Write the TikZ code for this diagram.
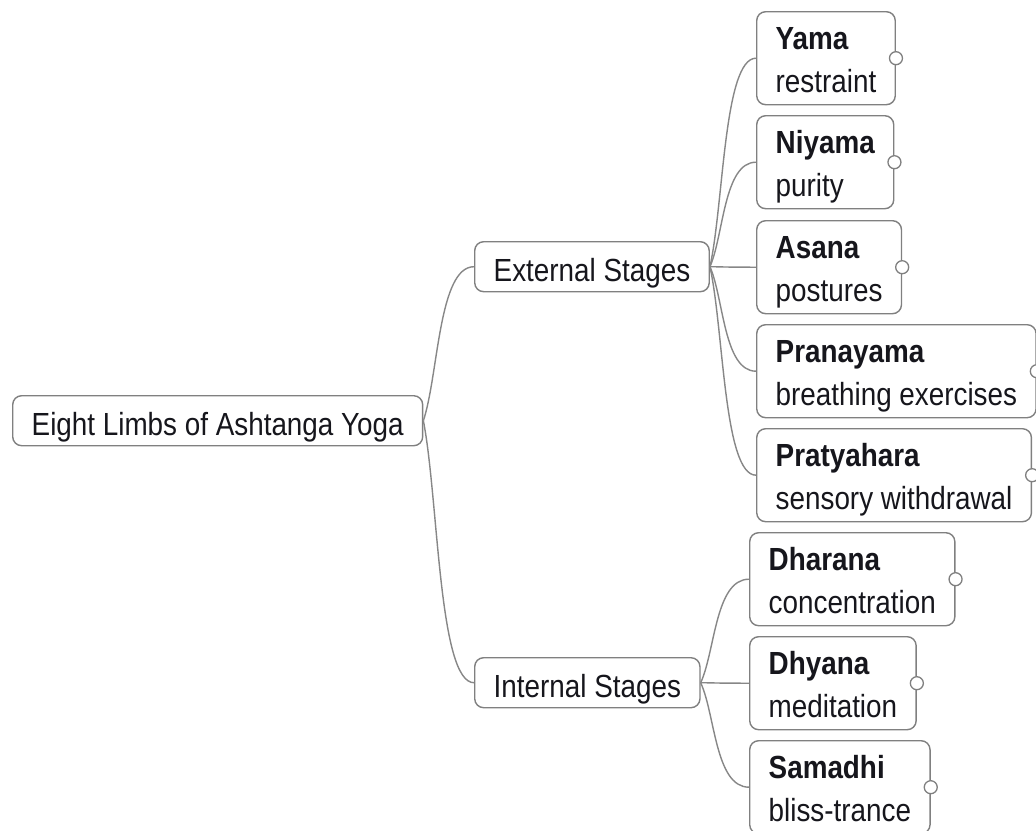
\documentclass[tikz,border=0pt]{standalone}
\usepackage{fontspec}
\setmainfont{Liberation Sans}[FakeStretch=0.87]
\usetikzlibrary{calc}
\definecolor{boxgray}{RGB}{128,128,128}
\definecolor{linegray}{RGB}{135,135,135}
\definecolor{textblack}{RGB}{22,22,28}
\newcommand{\leaftext}[2]{\vbox{\hbox{\bfseries #1}\hbox{#2}}}
\begin{document}
\begin{tikzpicture}[x=1pt,y=-1pt,
  box/.style={draw=boxgray, line width=1.4pt, rounded corners=9pt, fill=white,
    inner xsep=19pt, font=\fontsize{32}{43}\selectfont, text=textblack, anchor=north west},
  single/.style={box, text height=35pt, text depth=5pt, inner ysep=5pt},
  leaf/.style={box, text height=76pt, text depth=7pt, inner ysep=5pt},
  link/.style={draw=linegray, line width=1.4pt,
    to path={let \p1=(\tikztostart), \p2=(\tikztotarget) in
      .. controls ({\x1+0.3*(\x2-\x1)},{\y1+0.3*(\y2-\y1)}) and ({\x1+0.3*(\x2-\x1)},\y2) .. (\tikztotarget)}},
  knob/.style={circle, draw=boxgray, fill=white, line width=1.3pt, minimum size=13pt, inner sep=0pt}]
\useasboundingbox (0,0) rectangle (1036,830);
\fill[white] (0,0) rectangle (1036,830);
% nodes
\node[single] (root) at (12,395) {Eight Limbs of Ashtanga Yoga};
\node[single] (ext) at (474,241) {External Stages};
\node[single] (int) at (474,657) {Internal Stages};
\node[leaf] (yama) at (756,11) {\leaftext{Yama}{restraint}};
\node[leaf] (niyama) at (756,115) {\leaftext{Niyama}{purity}};
\node[leaf] (asana) at (756,220) {\leaftext{Asana}{postures}};
\node[leaf] (prana) at (756,324) {\leaftext{Pranayama}{breathing exercises}};
\node[leaf] (pratya) at (756,428) {\leaftext{Pratyahara}{sensory withdrawal}};
\node[leaf] (dharana) at (749,532) {\leaftext{Dharana}{concentration}};
\node[leaf] (dhyana) at (749,636) {\leaftext{Dhyana}{meditation}};
\node[leaf] (samadhi) at (749,740) {\leaftext{Samadhi}{bliss-trance}};
% connectors
\draw[link] (root.east) to (ext.west);
\draw[link] (root.east) to (int.west);
\foreach \c in {yama,niyama,asana,prana,pratya}{
  \draw[link] (ext.east) to (\c.west);
}
\foreach \c in {dharana,dhyana,samadhi}{
  \draw[link] (int.east) to (\c.west);
}
% knobs
\foreach \c in {yama,niyama,asana,prana,pratya,dharana,dhyana,samadhi}{
  \node[knob] (\c-knob) at (\c.east) {};
}
\end{tikzpicture}
\end{document}
